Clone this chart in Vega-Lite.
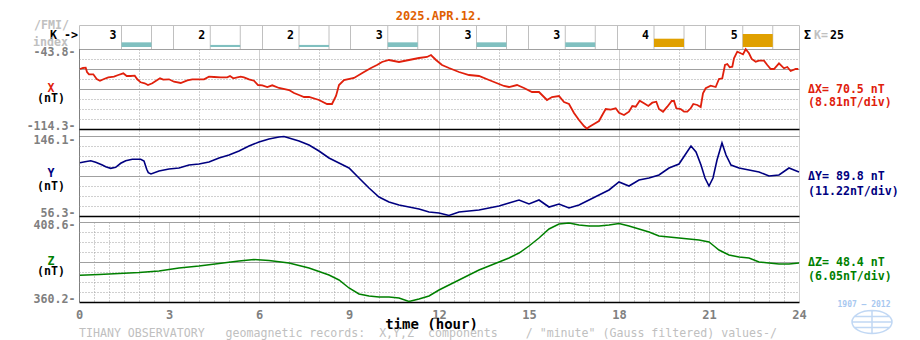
{
  "$schema": "https://vega.github.io/schema/vega-lite/v6.json",
  "padding": {"left": 26, "top": 9, "right": 4, "bottom": 0},
  "background": "white",
  "bounds": "flush",
  "spacing": 0,
  "resolve": {"scale": {"x": "independent", "y": "independent", "color": "independent"}},
  "config": {
    "font": "DejaVu Sans Mono",
    "view": {"stroke": null},
    "text": {"font": "DejaVu Sans Mono", "fontWeight": "bold", "fontSize": 11.6}
  },
  "datasets": {
    "kidx": [
      {"start": 0, "k": 3}, {"start": 3, "k": 2}, {"start": 6, "k": 2}, {"start": 9, "k": 3},
      {"start": 12, "k": 3}, {"start": 15, "k": 3}, {"start": 18, "k": 4}, {"start": 21, "k": 5}
    ],
    "xs": [
      {"h":0.033,"v":-61.43},{"h":0.133,"v":-60.54},{"h":0.223,"v":-60.28},{"h":0.267,"v":-64.07},{"h":0.333,"v":-66.10},
      {"h":0.477,"v":-66.10},{"h":0.59,"v":-70.24},{"h":0.70,"v":-71.74},{"h":0.833,"v":-70.24},{"h":0.977,"v":-68.74},
      {"h":1.167,"v":-68.21},{"h":1.31,"v":-66.71},{"h":1.477,"v":-65.21},{"h":1.59,"v":-67.59},{"h":1.723,"v":-67.59},
      {"h":1.857,"v":-67.33},{"h":1.943,"v":-70.50},{"h":2.057,"v":-73.15},{"h":2.19,"v":-74.03},{"h":2.30,"v":-75.53},
      {"h":2.443,"v":-74.03},{"h":2.557,"v":-72.00},{"h":2.70,"v":-69.62},{"h":2.81,"v":-70.85},{"h":3.00,"v":-70.50},
      {"h":3.167,"v":-72.62},{"h":3.39,"v":-73.76},{"h":3.61,"v":-71.38},{"h":3.777,"v":-70.50},{"h":4.167,"v":-70.50},
      {"h":4.333,"v":-68.21},{"h":4.5,"v":-68.48},{"h":4.723,"v":-68.74},{"h":4.943,"v":-68.74},{"h":5.033,"v":-67.59},
      {"h":5.143,"v":-69.62},{"h":5.277,"v":-68.74},{"h":5.39,"v":-68.21},{"h":5.5,"v":-68.74},{"h":5.667,"v":-70.50},
      {"h":5.833,"v":-71.74},{"h":5.967,"v":-75.53},{"h":6.11,"v":-75.79},{"h":6.277,"v":-77.29},{"h":6.443,"v":-75.79},
      {"h":6.667,"v":-78.17},{"h":7.0,"v":-79.93},{"h":7.167,"v":-82.58},{"h":7.333,"v":-84.34},{"h":7.5,"v":-86.10},
      {"h":7.667,"v":-86.10},{"h":8.0,"v":-88.74},{"h":8.267,"v":-92.27},{"h":8.433,"v":-92.27},{"h":8.567,"v":-85.22},
      {"h":8.667,"v":-75.53},{"h":8.833,"v":-71.12},{"h":9.167,"v":-69.36},{"h":9.5,"v":-64.07},{"h":9.733,"v":-60.54},
      {"h":9.933,"v":-57.90},{"h":10.1,"v":-55.26},{"h":10.333,"v":-53.49},{"h":10.667,"v":-55.26},{"h":11.0,"v":-53.49},
      {"h":11.333,"v":-51.73},{"h":11.6,"v":-50.85},{"h":11.733,"v":-49.09},{"h":11.9,"v":-53.49},{"h":12.1,"v":-57.90},
      {"h":12.333,"v":-60.54},{"h":12.667,"v":-64.07},{"h":13.0,"v":-66.71},{"h":13.333,"v":-67.59},{"h":13.667,"v":-71.12},
      {"h":14.0,"v":-74.64},{"h":14.167,"v":-76.41},{"h":14.333,"v":-77.29},{"h":14.6,"v":-75.53},{"h":14.833,"v":-78.17},
      {"h":15.1,"v":-81.69},{"h":15.333,"v":-81.69},{"h":15.6,"v":-88.74},{"h":15.767,"v":-86.10},{"h":16.0,"v":-85.22},
      {"h":16.167,"v":-90.51},{"h":16.333,"v":-92.27},{"h":16.5,"v":-100.20},{"h":16.667,"v":-106.37},{"h":16.833,"v":-111.66},
      {"h":16.93,"v":-114.0},{"h":17.0,"v":-112.54},{"h":17.167,"v":-109.89},{"h":17.333,"v":-107.25},{"h":17.443,"v":-101.96},
      {"h":17.557,"v":-96.68},{"h":17.723,"v":-97.29},{"h":17.89,"v":-96.06},{"h":18.0,"v":-99.94},{"h":18.167,"v":-101.96},
      {"h":18.333,"v":-99.05},{"h":18.443,"v":-94.03},{"h":18.557,"v":-94.65},{"h":18.69,"v":-89.36},{"h":18.833,"v":-91.65},
      {"h":18.977,"v":-94.03},{"h":19.11,"v":-91.12},{"h":19.243,"v":-90.24},{"h":19.333,"v":-96.68},{"h":19.467,"v":-99.05},
      {"h":19.61,"v":-94.65},{"h":19.757,"v":-89.63},{"h":19.833,"v":-89.63},{"h":19.91,"v":-96.06},{"h":20.057,"v":-96.68},
      {"h":20.167,"v":-99.05},{"h":20.277,"v":-99.05},{"h":20.39,"v":-96.06},{"h":20.477,"v":-92.27},{"h":20.61,"v":-93.15},
      {"h":20.723,"v":-94.91},{"h":20.8,"v":-82.84},{"h":20.89,"v":-78.43},{"h":21.057,"v":-76.14},{"h":21.223,"v":-77.29},
      {"h":21.333,"v":-70.24},{"h":21.443,"v":-69.62},{"h":21.533,"v":-57.90},{"h":21.61,"v":-57.02},{"h":21.69,"v":-59.93},
      {"h":21.777,"v":-59.40},{"h":21.833,"v":-51.98},{"h":21.943,"v":-46.18},{"h":22.057,"v":-47.59},{"h":22.133,"v":-48.47},
      {"h":22.223,"v":-44.0},{"h":22.333,"v":-47.59},{"h":22.423,"v":-52.61},{"h":22.557,"v":-54.99},{"h":22.667,"v":-54.11},
      {"h":22.833,"v":-54.11},{"h":22.943,"v":-57.90},{"h":23.057,"v":-61.43},{"h":23.167,"v":-61.43},{"h":23.333,"v":-56.40},
      {"h":23.5,"v":-60.81},{"h":23.61,"v":-59.66},{"h":23.723,"v":-63.19},{"h":23.89,"v":-61.43},{"h":23.977,"v":-61.43}
    ],
    "ys": [
      {"h":0.033,"v":116.13},{"h":0.2,"v":117.25},{"h":0.39,"v":118.37},{"h":0.557,"v":116.58},{"h":0.777,"v":113.55},
      {"h":0.89,"v":111.64},{"h":1.057,"v":109.84},{"h":1.223,"v":110.97},{"h":1.39,"v":115.46},{"h":1.557,"v":118.37},
      {"h":1.777,"v":119.95},{"h":2.057,"v":119.95},{"h":2.167,"v":118.04},{"h":2.257,"v":108.72},{"h":2.31,"v":104.90},
      {"h":2.4,"v":103.44},{"h":2.667,"v":106.81},{"h":3.0,"v":109.06},{"h":3.333,"v":110.18},{"h":3.667,"v":113.55},
      {"h":4.0,"v":114.67},{"h":4.333,"v":116.92},{"h":4.667,"v":121.40},{"h":5.0,"v":124.77},{"h":5.333,"v":129.26},
      {"h":5.667,"v":134.88},{"h":6.0,"v":139.37},{"h":6.333,"v":142.73},{"h":6.667,"v":144.98},{"h":6.833,"v":145.54},
      {"h":7.0,"v":143.86},{"h":7.333,"v":140.49},{"h":7.667,"v":136.0},{"h":8.0,"v":129.26},{"h":8.333,"v":121.40},
      {"h":8.667,"v":115.79},{"h":9.0,"v":110.18},{"h":9.333,"v":98.96},{"h":9.667,"v":87.73},{"h":10.0,"v":77.63},
      {"h":10.333,"v":72.02},{"h":10.667,"v":68.65},{"h":11.0,"v":66.40},{"h":11.333,"v":64.16},{"h":11.667,"v":60.79},
      {"h":12.0,"v":59.67},{"h":12.333,"v":56.86},{"h":12.667,"v":60.79},{"h":13.0,"v":61.91},{"h":13.333,"v":63.03},
      {"h":13.667,"v":65.28},{"h":14.0,"v":67.53},{"h":14.333,"v":70.89},{"h":14.667,"v":74.26},{"h":15.0,"v":69.77},
      {"h":15.333,"v":74.26},{"h":15.667,"v":66.40},{"h":16.0,"v":69.77},{"h":16.333,"v":65.28},{"h":16.667,"v":68.65},
      {"h":17.0,"v":74.26},{"h":17.333,"v":79.87},{"h":17.667,"v":85.49},{"h":18.0,"v":94.47},{"h":18.333,"v":89.98},
      {"h":18.667,"v":96.71},{"h":19.0,"v":98.96},{"h":19.333,"v":102.32},{"h":19.667,"v":110.18},{"h":20.0,"v":114.67},
      {"h":20.267,"v":128.14},{"h":20.4,"v":134.88},{"h":20.567,"v":128.14},{"h":20.733,"v":113.55},{"h":20.867,"v":98.96},
      {"h":21.0,"v":89.98},{"h":21.133,"v":98.96},{"h":21.267,"v":119.16},{"h":21.433,"v":138.24},{"h":21.567,"v":124.77},
      {"h":21.733,"v":113.55},{"h":22.0,"v":110.18},{"h":22.333,"v":107.93},{"h":22.667,"v":105.69},{"h":23.0,"v":101.20},
      {"h":23.333,"v":102.32},{"h":23.667,"v":110.18},{"h":23.833,"v":107.93},{"h":24.0,"v":105.69}
    ],
    "zs": [
      {"h":0.033,"v":376.35},{"h":0.667,"v":376.84},{"h":1.333,"v":377.44},{"h":2.0,"v":378.05},{"h":2.667,"v":378.96},
      {"h":3.333,"v":380.77},{"h":4.0,"v":381.98},{"h":4.667,"v":383.49},{"h":5.333,"v":385.0},{"h":5.833,"v":385.91},
      {"h":6.333,"v":385.31},{"h":7.0,"v":383.80},{"h":7.667,"v":380.77},{"h":8.333,"v":376.54},{"h":8.667,"v":373.51},
      {"h":9.0,"v":368.67},{"h":9.333,"v":365.04},{"h":9.667,"v":363.83},{"h":10.0,"v":363.23},{"h":10.333,"v":363.23},
      {"h":10.667,"v":362.62},{"h":11.0,"v":360.5},{"h":11.333,"v":362.02},{"h":11.667,"v":363.83},{"h":12.0,"v":367.46},
      {"h":12.333,"v":370.49},{"h":12.667,"v":373.51},{"h":13.0,"v":376.54},{"h":13.333,"v":379.56},{"h":13.667,"v":381.98},
      {"h":14.0,"v":384.40},{"h":14.333,"v":386.82},{"h":14.667,"v":389.85},{"h":15.0,"v":394.08},{"h":15.333,"v":398.92},
      {"h":15.667,"v":404.37},{"h":16.0,"v":407.39},{"h":16.333,"v":408.0},{"h":16.667,"v":406.79},{"h":17.0,"v":406.18},
      {"h":17.333,"v":406.18},{"h":17.667,"v":406.79},{"h":18.0,"v":407.69},{"h":18.333,"v":406.18},{"h":18.667,"v":404.37},
      {"h":19.0,"v":402.55},{"h":19.333,"v":400.13},{"h":19.667,"v":399.53},{"h":20.0,"v":398.92},{"h":20.333,"v":398.32},
      {"h":20.667,"v":397.71},{"h":21.0,"v":396.5},{"h":21.167,"v":394.08},{"h":21.333,"v":391.66},{"h":21.667,"v":388.63},
      {"h":22.0,"v":387.43},{"h":22.333,"v":386.82},{"h":22.667,"v":384.40},{"h":23.0,"v":383.80},{"h":23.333,"v":383.19},
      {"h":23.667,"v":383.19},{"h":24.0,"v":383.80}
    ]
  },
  "vconcat": [
    {
      "width": 720, "height": 24,
      "view": {"stroke": "#c0c0c0", "strokeWidth": 1},
      "title": {"text": "2025.APR.12.", "color": "#e06000", "font": "DejaVu Sans Mono", "fontSize": 12, "fontWeight": "bold", "anchor": "middle", "frame": "group", "offset": -3},
      "data": {"name": "kidx"},
      "layer": [
        {
          "mark": {"type": "rule", "color": "#c0c0c0", "xOffset": 37.5},
          "encoding": {
            "x": {"field": "start", "type": "quantitative", "scale": {"domain": [0, 24], "nice": false, "zero": false},
              "axis": {"values": [3, 6, 9, 12, 15, 18, 21], "grid": true, "gridColor": "#c0c0c0", "gridDash": [], "labels": false, "ticks": false, "domain": false, "title": null}}
          }
        },
        {
          "mark": {"type": "rule", "color": "#c0c0c0", "xOffset": 67.5},
          "encoding": {"x": {"field": "start", "type": "quantitative"}}
        },
        {
          "mark": {"type": "bar", "xOffset": 52.5, "width": 30, "yOffset": -2, "y2Offset": -2},
          "encoding": {
            "x": {"field": "start", "type": "quantitative"},
            "y": {"field": "k", "type": "quantitative", "scale": {"type": "pow", "exponent": 2, "domain": [0, 6.8], "nice": false}, "axis": null},
            "color": {"condition": {"test": "datum.k >= 4", "value": "#e0a000"}, "value": "#80c0c0"}
          }
        },
        {
          "mark": {"type": "text", "dx": 29, "dy": -1.5, "color": "#000000", "align": "center", "baseline": "middle"},
          "encoding": {"x": {"field": "start", "type": "quantitative"}, "text": {"field": "k", "type": "quantitative"}}
        },
        {
          "data": {"values": [{}]},
          "mark": {"type": "text", "dx": -15, "dy": -11, "color": "#c0c0c0", "align": "right", "baseline": "middle"},
          "encoding": {"x": {"datum": 0, "type": "quantitative"}, "text": {"value": "/FMI/"}}
        },
        {
          "data": {"values": [{}]},
          "mark": {"type": "text", "dx": -6, "dy": -1.3, "color": "#000000", "align": "right", "baseline": "middle"},
          "encoding": {"x": {"datum": 0, "type": "quantitative"}, "text": {"value": "K ->"}}
        },
        {
          "data": {"values": [{}]},
          "mark": {"type": "text", "dx": -16, "dy": 6.3, "color": "#c0c0c0", "align": "right", "baseline": "middle"},
          "encoding": {"x": {"datum": 0, "type": "quantitative"}, "text": {"value": "index"}}
        },
        {
          "data": {"values": [{}]},
          "mark": {"type": "text", "dx": 10, "dy": -1.3, "color": "#000000", "align": "left", "baseline": "middle"},
          "encoding": {"x": {"datum": 24, "type": "quantitative"}, "text": {"value": "Σ"}}
        },
        {
          "data": {"values": [{}]},
          "mark": {"type": "text", "dx": 20, "dy": -1.3, "color": "#c0c0c0", "align": "left", "baseline": "middle"},
          "encoding": {"x": {"datum": 24, "type": "quantitative"}, "text": {"value": "K="}}
        },
        {
          "data": {"values": [{}]},
          "mark": {"type": "text", "dx": 36, "dy": -1.3, "color": "#000000", "align": "left", "baseline": "middle"},
          "encoding": {"x": {"datum": 24, "type": "quantitative"}, "text": {"value": "25"}}
        }
      ]
    },
    {
      "width": 720, "height": 87,
      "layer": [
        {
          "data": {"name": "xs"},
          "mark": {"type": "line", "color": "#e0200c", "strokeWidth": 1.8},
          "encoding": {
            "x": {"field": "h", "type": "quantitative", "scale": {"domain": [0, 24], "nice": false, "zero": false},
              "axis": {"values": [0,0.5,1,1.5,2,2.5,3,3.5,4,4.5,5,5.5,6,6.5,7,7.5,8,8.5,9,9.5,10,10.5,11,11.5,12,12.5,13,13.5,14,14.5,15,15.5,16,16.5,17,17.5,18,18.5,19,19.5,20,20.5,21,21.5,22,22.5,23,23.5,24],
                "grid": true, "labels": false, "ticks": false, "domain": false, "title": null,
                "gridColor": {"condition": {"test": "datum.value == 0", "value": "#000000"}, "value": "#a0a0a0"},
                "gridDash": {"condition": {"test": "datum.value % 3 == 0", "value": [1, 1]}, "value": [1, 2]}}},
            "y": {"field": "v", "type": "quantitative", "scale": {"domain": [-120.47, -43.8], "nice": false, "zero": false},
              "axis": {
                "values": [-43.8, -52.6125, -61.425, -70.2375, -79.05, -87.8625, -96.675, -105.4875, -114.3],
                "labelExpr": "(datum.value > -44 || datum.value < -114) ? '-' + format(abs(datum.value), '.1f') + '-' : ''",
                "labelOverlap": false, "ticks": false, "domain": false, "title": null,
                "labelColor": "#808080", "labelFontSize": 11.6, "labelFontWeight": "bold", "labelFont": "DejaVu Sans Mono", "labelPadding": 4,
                "labelOffset": {"condition": {"test": "datum.value > -44", "value": 3.5}, "value": -2.5},
                "grid": true,
                "gridColor": {"condition": {"test": "datum.value < -114", "value": "#000000"}, "value": "#a0a0a0"},
                "gridDash": {"condition": {"test": "datum.value > -44 || datum.value < -114 || abs(datum.value + 61.425) < 0.1 || abs(datum.value + 79.05) < 0.1", "value": []}, "value": [1, 2]},
                "gridWidth": {"condition": {"test": "datum.value < -114", "value": 1.5}, "value": 1}
              }}
          }
        },
        {
          "data": {"values": [{}]},
          "mark": {"type": "text", "dx": -28, "dy": -3.2, "color": "#e0200c", "align": "center", "baseline": "middle"},
          "encoding": {"x": {"datum": 0, "type": "quantitative"}, "text": {"value": "X"}}
        },
        {
          "data": {"values": [{}]},
          "mark": {"type": "text", "dx": -28, "dy": 6.8, "color": "#000000", "align": "center", "baseline": "middle"},
          "encoding": {"x": {"datum": 0, "type": "quantitative"}, "text": {"value": "(nT)"}}
        },
        {
          "data": {"values": [{}]},
          "mark": {"type": "text", "dx": 9, "dy": -2.5, "color": "#e0200c", "align": "left", "baseline": "middle"},
          "encoding": {"x": {"datum": 24, "type": "quantitative"}, "text": {"value": "ΔX= 70.5 nT"}}
        },
        {
          "data": {"values": [{}]},
          "mark": {"type": "text", "dx": 9, "dy": 10.8, "color": "#e0200c", "align": "left", "baseline": "middle"},
          "encoding": {"x": {"datum": 24, "type": "quantitative"}, "text": {"value": "(8.81nT/div)"}}
        }
      ]
    },
    {
      "width": 720, "height": 86,
      "layer": [
        {
          "data": {"name": "ys"},
          "mark": {"type": "line", "color": "#000080", "strokeWidth": 1.6},
          "encoding": {
            "x": {"field": "h", "type": "quantitative", "scale": {"domain": [0, 24], "nice": false, "zero": false},
              "axis": {"values": [0,0.5,1,1.5,2,2.5,3,3.5,4,4.5,5,5.5,6,6.5,7,7.5,8,8.5,9,9.5,10,10.5,11,11.5,12,12.5,13,13.5,14,14.5,15,15.5,16,16.5,17,17.5,18,18.5,19,19.5,20,20.5,21,21.5,22,22.5,23,23.5,24],
                "grid": true, "labels": false, "ticks": false, "domain": false, "title": null,
                "gridColor": {"condition": {"test": "datum.value == 0", "value": "#000000"}, "value": "#a0a0a0"},
                "gridDash": {"condition": {"test": "datum.value % 3 == 0", "value": [1, 1]}, "value": [1, 2]}}},
            "y": {"field": "v", "type": "quantitative", "scale": {"domain": [49.565, 146.1], "nice": false, "zero": false},
              "axis": {
                "values": [146.1, 134.875, 123.65, 112.425, 101.2, 89.975, 78.75, 67.525, 56.3],
                "labelExpr": "(datum.value > 146 || datum.value < 57) ? format(datum.value, '.1f') + '-' : ''",
                "labelOverlap": false, "ticks": false, "domain": false, "title": null,
                "labelColor": "#808080", "labelFontSize": 11.6, "labelFontWeight": "bold", "labelFont": "DejaVu Sans Mono", "labelPadding": 4,
                "labelOffset": {"condition": {"test": "datum.value > 146", "value": 4}, "value": -3},
                "grid": true,
                "gridColor": {"condition": {"test": "datum.value < 57", "value": "#000000"}, "value": "#a0a0a0"},
                "gridDash": {"condition": {"test": "datum.value > 146 || datum.value < 57 || abs(datum.value - 101.2) < 0.1", "value": []}, "value": [1, 2]},
                "gridWidth": {"condition": {"test": "datum.value < 57", "value": 1.5}, "value": 1}
              }}
          }
        },
        {
          "data": {"values": [{}]},
          "mark": {"type": "text", "dx": -28, "dy": -4.7, "color": "#000080", "align": "center", "baseline": "middle"},
          "encoding": {"x": {"datum": 0, "type": "quantitative"}, "text": {"value": "Y"}}
        },
        {
          "data": {"values": [{}]},
          "mark": {"type": "text", "dx": -28, "dy": 7.7, "color": "#000000", "align": "center", "baseline": "middle"},
          "encoding": {"x": {"datum": 0, "type": "quantitative"}, "text": {"value": "(nT)"}}
        },
        {
          "data": {"values": [{}]},
          "mark": {"type": "text", "dx": 9, "dy": -2.3, "color": "#000080", "align": "left", "baseline": "middle"},
          "encoding": {"x": {"datum": 24, "type": "quantitative"}, "text": {"value": "ΔY= 89.8 nT"}}
        },
        {
          "data": {"values": [{}]},
          "mark": {"type": "text", "dx": 9, "dy": 12.7, "color": "#000080", "align": "left", "baseline": "middle"},
          "encoding": {"x": {"datum": 24, "type": "quantitative"}, "text": {"value": "(11.22nT/div)"}}
        }
      ]
    },
    {
      "width": 720, "height": 80,
      "title": {"text": "TIHANY OBSERVATORY\u00a0\u00a0\u00a0geomagnetic records:\u00a0\u00a0X,Y,Z\u00a0\u00a0components\u00a0\u00a0\u00a0\u00a0/ \"minute\" (Gauss filtered) values-/", "orient": "bottom", "anchor": "start", "frame": "group", "color": "#c0c0c0", "font": "DejaVu Sans Mono", "fontSize": 11.6, "fontWeight": "normal", "offset": -9},
      "resolve": {"axis": {"x": "independent"}},
      "layer": [
        {
          "data": {"name": "zs"},
          "mark": {"type": "line", "color": "#008000", "strokeWidth": 1.5},
          "encoding": {
            "x": {"field": "h", "type": "quantitative", "scale": {"domain": [0, 24], "nice": false, "zero": false},
              "axis": {"values": [0, 3, 6, 9, 12, 15, 18, 21, 24],
                "grid": true, "ticks": false, "domain": false, "orient": "bottom",
                "format": "d", "labelFlush": false, "labelOverlap": false, "labelSeparation": 0,
                "labelColor": "#808080", "labelFontSize": 12, "labelFontWeight": "bold", "labelFont": "DejaVu Sans Mono", "labelPadding": 7,
                "title": "time (hour)", "titleColor": "#000000", "titleFont": "DejaVu Sans Mono", "titleFontSize": 14, "titleFontWeight": "bold", "titlePadding": -3, "titleX": 352,
                "gridColor": {"condition": {"test": "datum.value == 0", "value": "#000000"}, "value": "#a0a0a0"},
                "gridDash": [1, 1]}},
            "y": {"field": "v", "type": "quantitative", "scale": {"domain": [360.2, 408.6], "nice": false, "zero": false},
              "axis": {
                "values": [408.6, 402.55, 396.5, 390.45, 384.4, 378.35, 372.3, 366.25, 360.2],
                "labelExpr": "(datum.value > 408 || datum.value < 361) ? format(datum.value, '.1f') + '-' : ''",
                "labelOverlap": false, "ticks": false, "domain": false, "title": null,
                "labelColor": "#808080", "labelFontSize": 11.6, "labelFontWeight": "bold", "labelFont": "DejaVu Sans Mono", "labelPadding": 4,
                "labelOffset": {"condition": {"test": "datum.value > 408", "value": 3.5}, "value": -2.5},
                "grid": true,
                "gridColor": {"condition": {"test": "datum.value < 361", "value": "#000000"}, "value": "#a0a0a0"},
                "gridDash": {"condition": {"test": "datum.value > 408 || datum.value < 361 || abs(datum.value - 384.4) < 0.1", "value": []}, "value": [1, 2]},
                "gridWidth": {"condition": {"test": "datum.value < 361", "value": 1.5}, "value": 1}
              }}
          }
        },
        {
          "data": {"values": [{}]},
          "mark": {"type": "text", "dx": -28, "dy": 0.3, "color": "#008000", "align": "center", "baseline": "middle"},
          "encoding": {"x": {"datum": 0, "type": "quantitative",
            "axis": {"orient": "top", "values": [0.5,1,1.5,2,2.5,3.5,4,4.5,5,5.5,6.5,7,7.5,8,8.5,9.5,10,10.5,11,11.5,12.5,13,13.5,14,14.5,15.5,16,16.5,17,17.5,18.5,19,19.5,20,20.5,21.5,22,22.5,23,23.5],
              "grid": true, "gridColor": "#a0a0a0", "gridDash": [1, 2], "labels": false, "ticks": false, "domain": false, "title": null}},
            "text": {"value": "Z"}}
        },
        {
          "data": {"values": [{}]},
          "mark": {"type": "text", "dx": -28, "dy": 10.3, "color": "#000000", "align": "center", "baseline": "middle"},
          "encoding": {"x": {"datum": 0, "type": "quantitative", "axis": null}, "text": {"value": "(nT)"}}
        },
        {
          "data": {"values": [{}]},
          "mark": {"type": "text", "dx": 9, "dy": 0.7, "color": "#008000", "align": "left", "baseline": "middle"},
          "encoding": {"x": {"datum": 24, "type": "quantitative", "axis": null}, "text": {"value": "ΔZ= 48.4 nT"}}
        },
        {
          "data": {"values": [{}]},
          "mark": {"type": "text", "dx": 9, "dy": 15.3, "color": "#008000", "align": "left", "baseline": "middle"},
          "encoding": {"x": {"datum": 24, "type": "quantitative", "axis": null}, "text": {"value": "(6.05nT/div)"}}
        },
        {
          "data": {"values": [{}]},
          "mark": {"type": "text", "dx": 65, "dy": 43, "color": "#a8c8f0", "align": "center", "baseline": "middle", "fontSize": 8, "fontWeight": "bold"},
          "encoding": {"x": {"datum": 24, "type": "quantitative", "axis": null}, "text": {"value": "1907 — 2012"}}
        },
        {
          "data": {"values": [{}]},
          "mark": {"type": "point", "xOffset": 73, "yOffset": 60, "filled": false, "color": "#a8c8f0", "strokeWidth": 1.5, "size": 1600,
            "shape": "M-1,0A1,0.575 0 1,0 1,0A1,0.575 0 1,0 -1,0Z M0,-0.575L0,0.575 M-1,0L1,0 M-0.9,-0.27L0.9,-0.27 M-0.9,0.27L0.9,0.27"},
          "encoding": {"x": {"datum": 24, "type": "quantitative", "axis": null}}
        }
      ]
    }
  ]
}
